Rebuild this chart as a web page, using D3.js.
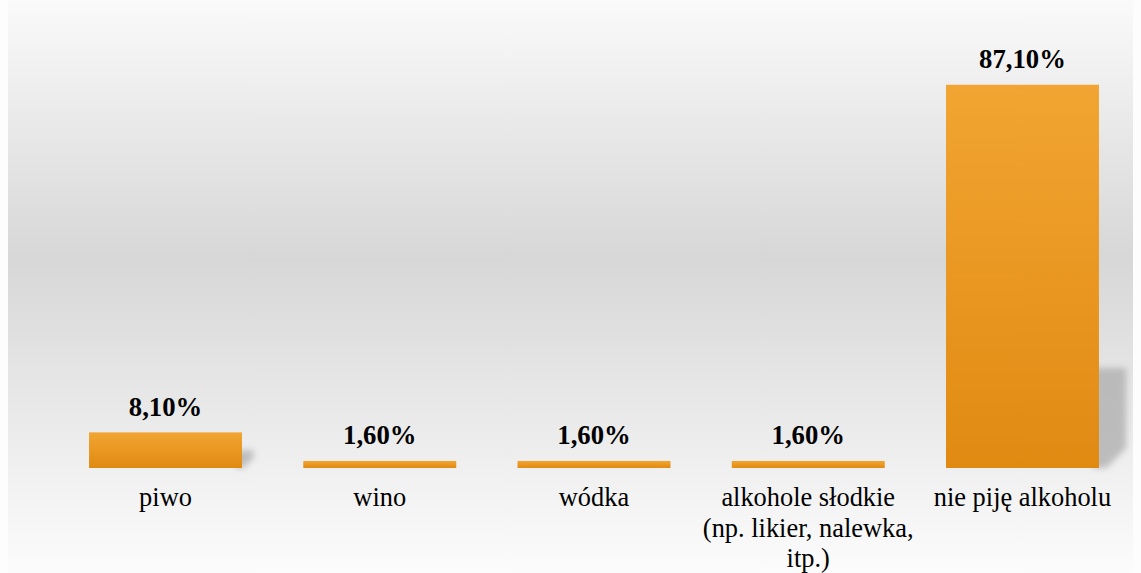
<!DOCTYPE html>
<html>
<head>
<meta charset="utf-8">
<script src="https://cdnjs.cloudflare.com/ajax/libs/d3/7.8.5/d3.min.js"></script>
<style>
  body { margin: 0; background: #fdfdfd; }
  svg { display: block; }
</style>
</head>
<body>
<svg id="chart"></svg>
<script>
// data
const categories = ["piwo", "wino", "wódka", "alkohole słodkie (np. likier, nalewka, itp.)", "nie piję alkoholu"];
const values = [8.1, 1.6, 1.6, 1.6, 87.1];
const valueLabels = ["8,10%", "1,60%", "1,60%", "1,60%", "87,10%"];

const W = 1141, H = 573;
const baseY = 468;

const svg = d3.select("#chart").attr("width", W).attr("height", H);
const defs = svg.append("defs");

// background gradient (white - grey - white)
const bg = defs.append("linearGradient").attr("id", "bg")
  .attr("x1", 0).attr("y1", 0).attr("x2", 0).attr("y2", 1);
bg.append("stop").attr("offset", "0%").attr("stop-color", "#fafafa");
bg.append("stop").attr("offset", "45%").attr("stop-color", "#d7d7d7");
bg.append("stop").attr("offset", "100%").attr("stop-color", "#fcfcfc");

const barGrad = defs.append("linearGradient").attr("id", "bar")
  .attr("x1", 0).attr("y1", 0).attr("x2", 0).attr("y2", 1);
barGrad.append("stop").attr("offset", "0%").attr("stop-color", "#f2a532");
barGrad.append("stop").attr("offset", "100%").attr("stop-color", "#e08a12");

const blur = defs.append("filter").attr("id", "blur")
  .attr("x", "-50%").attr("y", "-50%").attr("width", "200%").attr("height", "200%");
blur.append("feGaussianBlur").attr("stdDeviation", 3);

svg.append("rect").attr("x", 8).attr("y", 0).attr("width", 1125).attr("height", H)
  .attr("fill", "url(#bg)");

const x = d3.scaleBand().domain(categories).range([58.4, 1129.6])
  .paddingInner(0.286).paddingOuter(0.143);
const y = d3.scaleLinear().domain([0, 100]).range([baseY, 28]);

const g = svg.append("g");

// soft shadows on the right of the bars (diagonal cut at the bottom right)
function shadowPath(d, i) {
  const h = baseY - y(d);
  const sh = Math.min(h * 0.5, 100);
  const sw = 16 + h * 0.045;
  const x0 = x(categories[i]) + x.bandwidth() - 6;
  const cut = Math.min(sw * 0.6, sh * 0.6);
  return `M${x0},${baseY - sh}H${x0 + sw}V${baseY - cut}L${x0 + sw - cut},${baseY}H${x0}Z`;
}
g.selectAll("path.shadow").data(values).join("path")
  .attr("class", "shadow")
  .attr("d", shadowPath)
  .attr("fill", "#a8a8a8")
  .attr("opacity", d => d < 5 ? 0 : 0.7)
  .attr("filter", "url(#blur)");

g.selectAll("rect.bar").data(values).join("rect")
  .attr("class", "bar")
  .attr("x", (d, i) => x(categories[i]))
  .attr("y", d => y(d))
  .attr("width", x.bandwidth())
  .attr("height", d => baseY - y(d))
  .attr("fill", "url(#bar)");

g.selectAll("text.val").data(values).join("text")
  .attr("class", "val")
  .attr("x", (d, i) => x(categories[i]) + x.bandwidth() / 2)
  .attr("y", d => y(d) - 16.5)
  .attr("text-anchor", "middle")
  .attr("font-family", "'Liberation Serif', 'Times New Roman', serif")
  .attr("font-weight", "bold")
  .attr("font-size", "26.7px")
  .attr("fill", "#000")
  .text((d, i) => valueLabels[i]);

// category axis labels, wrapped to the band step
const cat = g.selectAll("text.cat").data(categories).join("text")
  .attr("class", "cat")
  .attr("x", d => x(d) + x.bandwidth() / 2)
  .attr("y", baseY + 38)
  .attr("text-anchor", "middle")
  .attr("font-family", "'Liberation Serif', 'Times New Roman', serif")
  .attr("font-size", "26.4px")
  .attr("fill", "#000");

cat.each(function(d) {
  const t = d3.select(this);
  const cx = +t.attr("x");
  const words = d.split(" ");
  let line = [];
  let tspan = t.append("tspan").attr("x", cx).attr("dy", 0);
  words.forEach(w => {
    line.push(w);
    tspan.text(line.join(" "));
    if (tspan.node().getComputedTextLength() > x.step() + 2 && line.length > 1) {
      line.pop();
      tspan.text(line.join(" "));
      line = [w];
      tspan = t.append("tspan").attr("x", cx).attr("dy", 30.5).text(w);
    }
  });
});
</script>
</body>
</html>
